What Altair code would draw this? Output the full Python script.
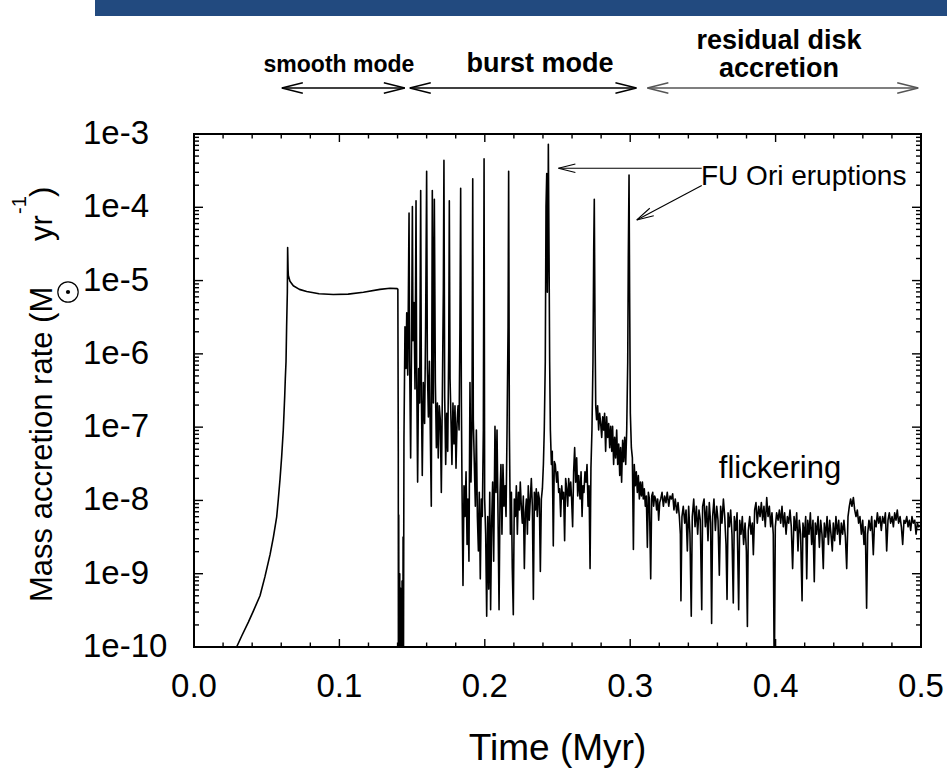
import altair as alt
import pandas as pd

W, H = 727, 513
FONT = "Liberation Sans"

# ---------------- data (time in Myr, log10 of accretion rate) -------------
T_SMOOTH = [0.0250, 0.0293, 0.0328, 0.0374, 0.0408, 0.0454, 0.0488, 0.0523, 0.0546, 0.0569,
            0.0580, 0.0592, 0.0603, 0.0614, 0.0619, 0.0624, 0.0628, 0.0633, 0.0637, 0.0642,
            0.0644, 0.0647, 0.0649, 0.0660, 0.0683, 0.0725, 0.0775, 0.0860, 0.0958, 0.1060,
            0.1165, 0.1279, 0.1348, 0.1398]
LOG_SMOOTH = [-10.3, -10.0, -9.85, -9.66, -9.51, -9.30, -9.04, -8.74, -8.50, -8.22,
              -7.98, -7.70, -7.40, -7.04, -6.81, -6.57, -6.34, -6.10, -5.63, -5.16,
              -4.55, -4.85, -4.93, -5.01, -5.07, -5.12, -5.15, -5.18, -5.19, -5.185,
              -5.16, -5.12, -5.105, -5.11]

T_DROP = [0.1402, 0.1405, 0.1406, 0.1408, 0.1410, 0.1411, 0.1413, 0.1415, 0.1416, 0.1418,
          0.1420, 0.1421, 0.1423, 0.1425, 0.1426, 0.1428, 0.1430, 0.1431, 0.1433, 0.1435,
          0.1436, 0.1438, 0.1440, 0.1442]
LOG_DROP = [-5.12, -7.33, -11.0, -8.2, -11.0, -9.3, -11.0, -9.0, -11.0, -9.5,
            -11.0, -9.2, -11.0, -9.6, -11.0, -9.4, -11.0, -9.1, -11.0, -9.5,
            -11.0, -8.5, -11.0, -9.0]

T_BURST = [0.1444, 0.1451, 0.1458, 0.1463, 0.1470, 0.1479, 0.1483, 0.1490, 0.1497, 0.1502,
           0.1506, 0.1513, 0.1520, 0.1527, 0.1531, 0.1538, 0.1545, 0.1552, 0.1559, 0.1564,
           0.1570, 0.1577, 0.1586, 0.1593, 0.1600, 0.1605, 0.1612, 0.1619, 0.1625, 0.1632,
           0.1639, 0.1646, 0.1653, 0.1660, 0.1667, 0.1674, 0.1680, 0.1687, 0.1694, 0.1701,
           0.1708, 0.1715, 0.1719, 0.1724, 0.1731, 0.1738, 0.1745, 0.1752, 0.1756, 0.1761,
           0.1768, 0.1774, 0.1781, 0.1788, 0.1795, 0.1802, 0.1809, 0.1816, 0.1823, 0.1829,
           0.1834, 0.1839, 0.1843, 0.1850, 0.1857, 0.1864, 0.1871, 0.1878, 0.1884, 0.1891,
           0.1898, 0.1905, 0.1912, 0.1917, 0.1921, 0.1928, 0.1935, 0.1942, 0.1949, 0.1956,
           0.1962, 0.1969, 0.1976, 0.1983, 0.1990, 0.1995, 0.1999, 0.2006, 0.2013, 0.2020,
           0.2027, 0.2034, 0.2040, 0.2047, 0.2054, 0.2061, 0.2070, 0.2077, 0.2084, 0.2091,
           0.2098, 0.2105, 0.2111, 0.2118, 0.2125, 0.2132, 0.2139, 0.2146, 0.2153, 0.2160,
           0.2164, 0.2169, 0.2176, 0.2183, 0.2189, 0.2196, 0.2203, 0.2210, 0.2217, 0.2224,
           0.2231, 0.2238, 0.2244, 0.2251, 0.2258, 0.2265, 0.2272, 0.2279, 0.2286, 0.2293,
           0.2299, 0.2306, 0.2313, 0.2320, 0.2327, 0.2334, 0.2341, 0.2348, 0.2354, 0.2361,
           0.2368, 0.2375, 0.2382, 0.2389, 0.2396, 0.2403, 0.2409, 0.2416, 0.2421, 0.2426,
           0.2430, 0.2435, 0.2437, 0.2442, 0.2446, 0.2451, 0.2458, 0.2464, 0.2471, 0.2478,
           0.2485, 0.2494, 0.2501, 0.2508, 0.2515, 0.2522, 0.2529, 0.2536, 0.2542, 0.2549,
           0.2556, 0.2563, 0.2570, 0.2577, 0.2584, 0.2591, 0.2597, 0.2604, 0.2611, 0.2618,
           0.2625, 0.2632, 0.2639, 0.2646, 0.2655, 0.2662, 0.2669, 0.2675, 0.2682, 0.2689,
           0.2696, 0.2703, 0.2710, 0.2717, 0.2724, 0.2730, 0.2737, 0.2744, 0.2749, 0.2753,
           0.2758, 0.2763, 0.2769, 0.2776, 0.2783, 0.2790, 0.2797, 0.2804, 0.2811, 0.2818,
           0.2824, 0.2831, 0.2838, 0.2845, 0.2852, 0.2859, 0.2866, 0.2873, 0.2879, 0.2886,
           0.2893, 0.2900, 0.2907, 0.2914, 0.2921, 0.2928, 0.2934, 0.2941, 0.2948, 0.2955,
           0.2962, 0.2969, 0.2976, 0.2983, 0.2987, 0.2992, 0.2996, 0.3001, 0.3008, 0.3015,
           0.3022, 0.3028, 0.3035, 0.3042, 0.3049, 0.3056, 0.3063, 0.3070, 0.3077, 0.3084,
           0.3090, 0.3097, 0.3104, 0.3111, 0.3118, 0.3125, 0.3132, 0.3141, 0.3148, 0.3155,
           0.3161, 0.3168, 0.3175, 0.3182, 0.3189, 0.3196, 0.3203]
LOG_BURST = [-7.14, -5.63, -6.20, -5.44, -6.29, -4.08, -6.10, -7.42, -5.63, -3.99,
             -5.82, -5.30, -6.48, -3.91, -6.10, -7.75, -6.20, -6.67, -3.77, -6.57,
             -7.66, -6.39, -6.95, -5.63, -3.51, -6.20, -6.86, -6.10, -7.04, -8.08,
             -3.77, -6.67, -3.89, -6.39, -7.28, -6.67, -7.42, -6.71, -6.90, -7.89,
             -6.57, -5.11, -3.36, -6.57, -7.51, -6.81, -7.33, -5.91, -3.91, -6.34,
             -6.95, -7.51, -6.67, -7.23, -6.71, -7.56, -6.95, -6.71, -7.04, -5.63,
             -3.74, -6.67, -7.75, -9.16, -7.80, -8.22, -7.61, -8.60, -7.98, -8.83,
             -6.39, -7.75, -6.95, -3.61, -6.90, -7.51, -8.08, -7.04, -8.22, -8.69,
             -7.89, -9.07, -7.98, -8.22, -7.04, -3.34, -7.98, -8.46, -9.58, -8.22,
             -9.21, -7.89, -9.49, -8.31, -7.75, -8.83, -6.99, -7.89, -7.04, -8.22,
             -9.49, -7.89, -7.51, -8.46, -7.51, -8.08, -7.80, -8.22, -7.04, -5.63,
             -3.51, -7.04, -8.46, -7.89, -8.93, -9.56, -7.98, -8.22, -7.80, -8.46,
             -7.89, -8.13, -7.75, -8.08, -8.31, -7.94, -8.93, -8.17, -7.98, -8.46,
             -7.80, -8.27, -7.98, -7.70, -8.08, -9.35, -7.89, -8.13, -7.84, -8.22,
             -7.89, -7.98, -8.97, -7.98, -7.84, -7.51, -7.04, -6.10, -3.99, -3.54,
             -5.16, -4.22, -3.14, -4.69, -6.10, -7.04, -7.51, -7.33, -8.62, -7.47,
             -7.51, -7.75, -7.61, -7.89, -7.84, -8.22, -7.80, -7.98, -7.89, -8.55,
             -7.70, -7.84, -8.08, -7.70, -7.94, -7.75, -7.98, -8.36, -7.61, -7.28,
             -7.75, -7.42, -7.94, -7.66, -7.98, -7.61, -8.22, -7.80, -7.89, -7.61,
             -7.75, -7.51, -8.08, -7.80, -8.93, -7.56, -7.04, -6.10, -4.60, -3.89,
             -5.63, -6.71, -6.90, -6.71, -7.04, -6.81, -6.95, -7.14, -6.86, -7.04,
             -6.81, -7.33, -6.86, -7.14, -6.95, -7.28, -6.99, -7.33, -6.99, -7.51,
             -7.14, -7.42, -7.04, -7.51, -7.23, -7.66, -7.28, -7.75, -7.18, -7.47,
             -7.14, -7.51, -7.04, -6.10, -4.69, -3.56, -5.16, -6.81, -7.28, -7.42,
             -8.67, -7.51, -7.80, -7.61, -7.89, -7.66, -7.98, -7.75, -7.94, -7.75,
             -7.98, -7.84, -8.08, -7.94, -8.64, -7.89, -7.98, -9.07, -7.94, -7.89,
             -8.08, -7.94, -7.98, -8.13, -7.98, -8.27, -8.03]

T_RESID = [0.3210, 0.3219, 0.3228, 0.3237, 0.3246, 0.3255, 0.3265, 0.3274, 0.3283, 0.3292,
           0.3301, 0.3310, 0.3320, 0.3329, 0.3338, 0.3345, 0.3349, 0.3356, 0.3365, 0.3375,
           0.3384, 0.3393, 0.3402, 0.3411, 0.3420, 0.3427, 0.3437, 0.3446, 0.3455, 0.3464,
           0.3473, 0.3482, 0.3492, 0.3498, 0.3508, 0.3517, 0.3526, 0.3535, 0.3544, 0.3553,
           0.3560, 0.3567, 0.3576, 0.3586, 0.3595, 0.3604, 0.3613, 0.3622, 0.3631, 0.3641,
           0.3650, 0.3659, 0.3666, 0.3673, 0.3682, 0.3691, 0.3700, 0.3709, 0.3716, 0.3725,
           0.3735, 0.3746, 0.3753, 0.3762, 0.3771, 0.3780, 0.3790, 0.3799, 0.3806, 0.3812,
           0.3822, 0.3831, 0.3840, 0.3847, 0.3856, 0.3865, 0.3874, 0.3884, 0.3893, 0.3902,
           0.3911, 0.3920, 0.3929, 0.3939, 0.3948, 0.3957, 0.3966, 0.3975, 0.3984, 0.3991,
           0.3998, 0.4007, 0.4017, 0.4026, 0.4035, 0.4044, 0.4053, 0.4062, 0.4072, 0.4081,
           0.4090, 0.4099, 0.4108, 0.4117, 0.4127, 0.4136, 0.4145, 0.4154, 0.4163, 0.4172,
           0.4182, 0.4188, 0.4198, 0.4207, 0.4214, 0.4221, 0.4230, 0.4239, 0.4248, 0.4257,
           0.4266, 0.4273, 0.4282, 0.4292, 0.4301, 0.4310, 0.4319, 0.4328, 0.4335, 0.4344,
           0.4354, 0.4363, 0.4372, 0.4381, 0.4390, 0.4397, 0.4406, 0.4415, 0.4425, 0.4434,
           0.4443, 0.4452, 0.4461, 0.4470, 0.4480, 0.4489, 0.4498, 0.4507, 0.4516, 0.4525,
           0.4535, 0.4544, 0.4553, 0.4562, 0.4571, 0.4580, 0.4590, 0.4599, 0.4608, 0.4617,
           0.4626, 0.4633, 0.4642, 0.4652, 0.4661, 0.4672, 0.4681, 0.4691, 0.4700, 0.4709,
           0.4718, 0.4727, 0.4736, 0.4746, 0.4755, 0.4764, 0.4773, 0.4782, 0.4791, 0.4801,
           0.4810, 0.4819, 0.4828, 0.4837, 0.4846, 0.4856, 0.4865, 0.4874, 0.4883, 0.4892,
           0.4902, 0.4911, 0.4920, 0.4929, 0.4938, 0.4947, 0.4957, 0.4966, 0.4975, 0.4984,
           0.5000]
LOG_RESID = [-7.98, -7.89, -8.08, -7.94, -8.03, -7.89, -8.08, -7.94, -7.98, -7.91,
             -8.13, -7.98, -8.17, -8.03, -8.22, -8.46, -9.37, -8.22, -8.08, -8.31,
             -8.13, -8.69, -8.08, -8.46, -9.58, -8.22, -7.98, -8.36, -8.08, -8.46,
             -8.13, -8.27, -9.49, -8.08, -7.98, -8.36, -8.08, -8.55, -8.03, -8.31,
             -9.68, -8.22, -7.98, -8.41, -8.08, -8.27, -9.02, -8.08, -8.31, -7.98,
             -8.22, -8.60, -9.35, -8.17, -8.36, -8.13, -8.46, -9.40, -8.22, -8.41,
             -8.17, -9.49, -8.27, -8.46, -8.22, -8.60, -8.31, -8.69, -9.72, -8.41,
             -8.22, -8.46, -8.31, -8.74, -8.13, -8.03, -8.31, -8.08, -8.22, -8.03,
             -8.27, -8.08, -8.36, -7.96, -8.22, -8.08, -8.36, -8.17, -8.46, -10.5,
             -8.36, -8.17, -8.27, -8.13, -8.31, -8.08, -8.36, -8.17, -8.46, -8.22,
             -8.31, -8.13, -8.36, -8.93, -8.22, -8.41, -8.17, -8.69, -8.27, -8.46,
             -9.37, -8.31, -8.50, -8.22, -9.07, -8.27, -8.46, -8.17, -8.60, -8.27,
             -9.11, -8.31, -8.46, -8.22, -8.64, -8.27, -8.46, -8.93, -8.31, -8.50,
             -8.22, -8.60, -8.27, -8.46, -8.69, -8.31, -8.55, -8.22, -8.46, -8.27,
             -8.60, -8.31, -8.46, -8.27, -8.50, -8.93, -8.22, -8.08, -7.98, -8.08,
             -7.96, -8.13, -8.22, -8.13, -8.31, -8.22, -8.46, -8.27, -8.60, -8.36,
             -9.47, -8.46, -8.27, -8.41, -8.22, -8.74, -8.27, -8.36, -8.17, -8.31,
             -8.22, -8.41, -8.22, -8.31, -8.17, -8.69, -8.27, -8.17, -8.31, -8.22,
             -8.36, -8.17, -8.27, -8.13, -8.31, -8.22, -8.36, -8.60, -8.27, -8.31,
             -8.22, -8.36, -8.27, -8.41, -8.22, -8.31, -8.27, -8.46, -8.31, -8.36,
             -8.33]

# axis ticks / labels
X_LABELS = [0.0, 0.1, 0.2, 0.3, 0.4, 0.5]
X_LABEL_TEXT = ["0.0", "0.1", "0.2", "0.3", "0.4", "0.5"]
X_MAJOR = [0.1, 0.2, 0.3, 0.4]
X_MINOR = [0.02, 0.04, 0.06, 0.08, 0.12, 0.14, 0.16, 0.18, 0.22, 0.24, 0.26, 0.28,
           0.32, 0.34, 0.36, 0.38, 0.42, 0.44, 0.46, 0.48]
Y_LABELS = [1e-10, 1e-9, 1e-8, 1e-7, 1e-6, 1e-5, 1e-4, 1e-3]
Y_LABEL_TEXT = ["1e-10", "1e-9", "1e-8", "1e-7", "1e-6", "1e-5", "1e-4", "1e-3"]
Y_MAJOR = [1e-9, 1e-8, 1e-7, 1e-6, 1e-5, 1e-4]
Y_MINOR = [k * 10.0 ** e for e in range(-10, -3) for k in range(2, 10)]

# annotation anchors (data coordinates)
MODE_START = [0.0604, 0.1484, 0.3118]
MODE_END = [0.1450, 0.3043, 0.4981]
MODE_LABEL_T = [0.0997, 0.2380, 0.4023]
FU_T = [0.2506, 0.3492, 0.3045]
FU_LOG = [-3.468, -3.703, -4.173]

# ---------------- chart ----------------
T_ALL = T_SMOOTH + T_DROP + T_BURST + T_RESID
LOG_ALL = LOG_SMOOTH + LOG_DROP + LOG_BURST + LOG_RESID
series = pd.DataFrame({"t": T_ALL, "logm": LOG_ALL})
series["mdot"] = 10.0 ** series["logm"]
series["order"] = range(len(series))

xscale = alt.Scale(domain=[0, 0.5], nice=False, zero=False)
yscale = alt.Scale(type="log", domain=[1e-10, 1e-3], nice=False)
XE = dict(scale=xscale, axis=None)
YE = dict(scale=yscale, axis=None)

line = alt.Chart(series).mark_line(
    color="black", strokeWidth=1.6, clip=True, strokeJoin="round"
).encode(
    x=alt.X("t:Q", **XE),
    y=alt.Y("mdot:Q", **YE),
    order="order:Q",
)

# tick labels drawn through the scales
xlab = alt.Chart(pd.DataFrame({"t": X_LABELS, "label": X_LABEL_TEXT})).mark_text(
    font=FONT, fontSize=33, align="center", baseline="alphabetic", color="black"
).encode(x=alt.X("t:Q", **XE), y=alt.value(H + 50), text="label:N")

ylab = alt.Chart(pd.DataFrame({"v": Y_LABELS, "label": Y_LABEL_TEXT})).mark_text(
    font=FONT, fontSize=33, align="left", baseline="middle", color="black"
).encode(y=alt.Y("v:Q", **YE), x=alt.value(-111), text="label:N")


def xtick_layer(vals, length, top):
    df = pd.DataFrame({"t": vals})
    y0, y1 = (0, length) if top else (H, H - length)
    return alt.Chart(df).mark_rule(color="black", strokeWidth=1.4).encode(
        x=alt.X("t:Q", **XE), y=alt.value(y0), y2=alt.value(y1))


def ytick_layer(vals, length, left):
    df = pd.DataFrame({"v": vals})
    x0, x1 = (0, length) if left else (W, W - length)
    return alt.Chart(df).mark_rule(color="black", strokeWidth=1.4).encode(
        y=alt.Y("v:Q", **YE), x=alt.value(x0), x2=alt.value(x1))


ticks = [
    xtick_layer(X_MAJOR, 8, True), xtick_layer(X_MINOR, 4.5, True),
    xtick_layer(X_MAJOR, 8, False), xtick_layer(X_MINOR, 4.5, False),
    ytick_layer(Y_MAJOR, 9, True), ytick_layer(Y_MINOR, 5, True),
    ytick_layer(Y_MAJOR, 9, False), ytick_layer(Y_MINOR, 5, False),
]

HEAD = "M0,0L2,-0.5M0,0L2,0.5"


def one(**cols):
    return pd.DataFrame({k: [v] for k, v in cols.items()})


def text_px(txt, x, y, size, weight="normal", align="center", angle=0):
    return alt.Chart(one(label=txt)).mark_text(
        font=FONT, fontSize=size, fontWeight=weight, align=align, baseline="alphabetic",
        angle=angle, color="black").encode(x=alt.value(x), y=alt.value(y), text="label:N")


def text_t(txt, t, y, size, weight="normal", align="center"):
    return alt.Chart(one(label=txt, t=t)).mark_text(
        font=FONT, fontSize=size, fontWeight=weight, align=align, baseline="alphabetic",
        color="black").encode(x=alt.X("t:Q", **XE), y=alt.value(y), text="label:N")


# blue banner at the very top
banner = alt.Chart(one(k=0)).mark_rect(color="#224a7f").encode(
    x=alt.value(-99), x2=alt.value(753), y=alt.value(-134), y2=alt.value(-118))

# mode arrows above plot
ARROW_Y = -46
mode_layers = []
for i, col in enumerate(["black", "black", "#555555"]):
    df = one(t0=MODE_START[i], t1=MODE_END[i])
    mode_layers.append(alt.Chart(df).mark_rule(color=col, strokeWidth=1.3).encode(
        x=alt.X("t0:Q", **XE), x2="t1:Q", y=alt.value(ARROW_Y)))
    mode_layers.append(alt.Chart(df).mark_point(
        shape=HEAD, size=441, filled=False, color=col, strokeWidth=1.3, angle=0, opacity=1
    ).encode(x=alt.X("t0:Q", **XE), y=alt.value(ARROW_Y)))
    mode_layers.append(alt.Chart(df).mark_point(
        shape=HEAD, size=441, filled=False, color=col, strokeWidth=1.3, angle=180, opacity=1
    ).encode(x=alt.X("t1:Q", **XE), y=alt.value(ARROW_Y)))

mode_text = [
    text_t("smooth mode", MODE_LABEL_T[0], -62, 23, "bold"),
    text_t("burst mode", MODE_LABEL_T[1], -62, 27, "bold"),
    text_t("residual disk", MODE_LABEL_T[2], -85, 27, "bold"),
    text_t("accretion", MODE_LABEL_T[2], -57, 27, "bold"),
]

# FU Ori arrows
fu_h = one(t0=FU_T[0], m0=10 ** FU_LOG[0], t1=FU_T[1])
fu_d = one(t0=FU_T[1], m0=10 ** FU_LOG[1], t1=FU_T[2], m1=10 ** FU_LOG[2])
fu_layers = [
    alt.Chart(fu_h).mark_rule(color="black", strokeWidth=1.1).encode(
        x=alt.X("t0:Q", **XE), x2="t1:Q", y=alt.Y("m0:Q", **YE)),
    alt.Chart(fu_d).mark_rule(color="black", strokeWidth=1.1).encode(
        x=alt.X("t0:Q", **XE), x2="t1:Q", y=alt.Y("m0:Q", **YE), y2="m1:Q"),
    alt.Chart(fu_h).mark_point(shape=HEAD, size=289, filled=False, color="black",
                               strokeWidth=1.1, angle=0, opacity=1).encode(
        x=alt.X("t0:Q", **XE), y=alt.Y("m0:Q", **YE)),
    alt.Chart(fu_d).mark_point(shape=HEAD, size=289, filled=False, color="black",
                               strokeWidth=1.1, angle=332, opacity=1).encode(
        x=alt.X("t1:Q", **XE), y=alt.Y("m1:Q", **YE)),
    alt.Chart(one(label="FU Ori eruptions", t=0.3487, m=10 ** -3.696)).mark_text(
        font=FONT, fontSize=28, align="left", baseline="alphabetic", color="black").encode(
        x=alt.X("t:Q", **XE), y=alt.Y("m:Q", **YE), text="label:N"),
    alt.Chart(one(label="flickering", t=0.4030, m=10 ** -7.694)).mark_text(
        font=FONT, fontSize=31, align="center", baseline="alphabetic", color="black").encode(
        x=alt.X("t:Q", **XE), y=alt.Y("m:Q", **YE), text="label:N"),
]

# axis titles
xtitle = text_px("Time (Myr)", W / 2, 626, 37)
ytitle = [
    text_px("Mass accretion rate (M", -142, 468, 31, align="left", angle=270),
    text_px("yr", -142, 107, 31, align="left", angle=270),
    text_px("-1", -168, 80, 20, align="left", angle=270),
    text_px(")", -142, 63, 31, align="left", angle=270),
    alt.Chart(one(k=0)).mark_point(shape="circle", size=415, filled=False, color="black",
                                   strokeWidth=1.2, opacity=1).encode(
        x=alt.value(-126), y=alt.value(158)),
    alt.Chart(one(k=0)).mark_point(shape="circle", size=18, filled=True, color="black",
                                   opacity=1).encode(x=alt.value(-126), y=alt.value(158)),
]

chart = alt.layer(
    line, *ticks, xlab, ylab, banner, *mode_layers, *mode_text, *fu_layers, xtitle, *ytitle
).properties(
    width=W, height=H,
    padding={"left": 194, "top": 134, "right": 26, "bottom": 124},
    autosize=alt.AutoSizeParams(type="none"),
    background="white",
).configure_view(stroke="black", strokeWidth=2)

chart.save("out.html", embed_options={"renderer": "svg", "actions": False})
